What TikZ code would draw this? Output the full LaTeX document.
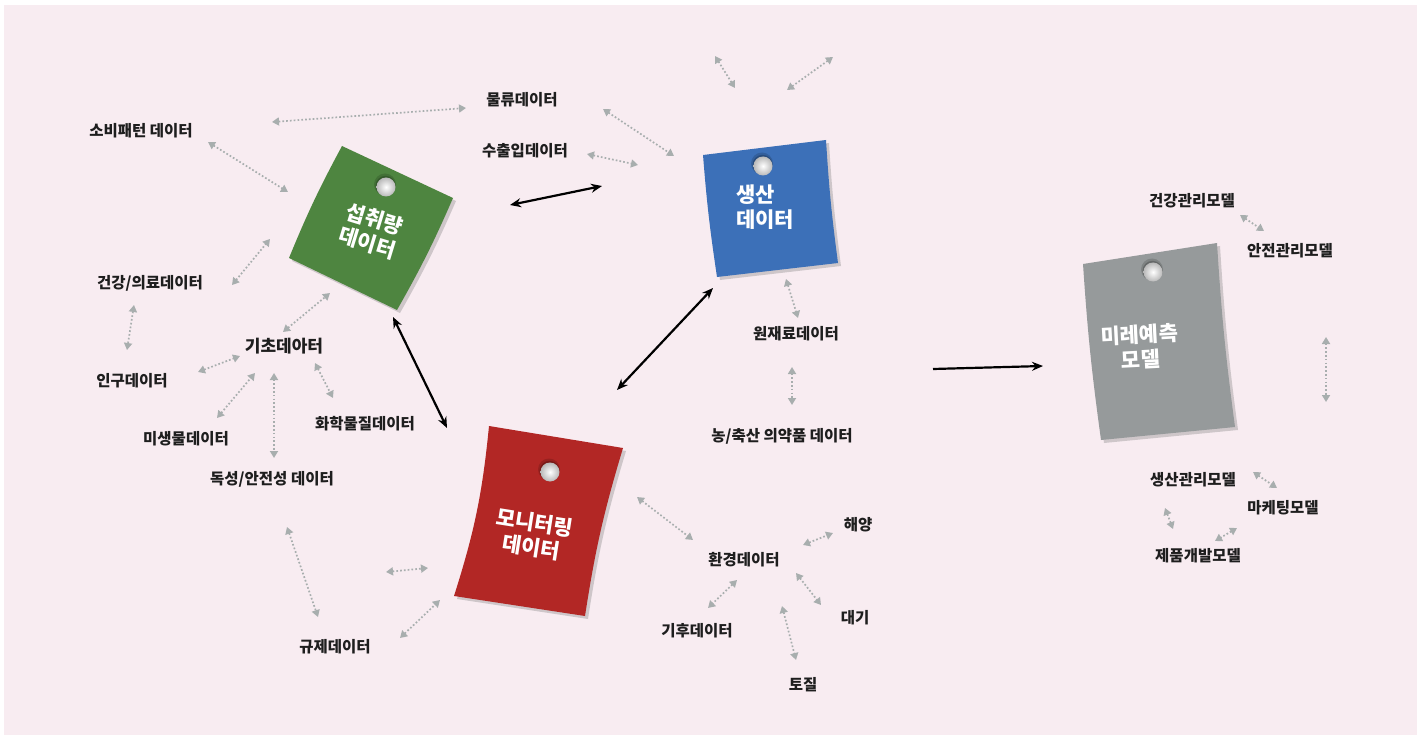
\documentclass[tikz,border=0pt]{standalone}
\usepackage{fontspec}
\newfontfamily\kr{Noto Sans CJK KR}
\usetikzlibrary{arrows.meta,shadows,calc}
\definecolor{bgpink}{HTML}{F8ECF1}
\definecolor{txtc}{HTML}{1E1E1E}
\definecolor{arrgray}{HTML}{A8AEAE}
\definecolor{notegreen}{HTML}{4E8540}
\definecolor{noteblue}{HTML}{3C70B8}
\definecolor{notegray}{HTML}{969A9B}
\definecolor{notered}{HTML}{B22725}
\newcommand\darr[3]{\coordinate (#1a) at (#2); \coordinate (#1b) at (#3); \draw[dotarr] (#1a) -- (#1b);}
\newcommand\pinat[1]{\fill[black,opacity=.15] ($(#1)+(-1,2.5)$) circle (11); \fill[black,opacity=.2] ($(#1)+(-0.5,1.2)$) circle (10); \shade[inner color=white, outer color=gray!55] (#1) circle (9.5);}
\begin{document}
\begin{tikzpicture}[x=1pt,y=1pt,
  lbl/.style={font=\kr\bfseries\fontsize{15.5}{18}\selectfont, text=txtc, inner sep=0},
  notetxt/.style={font=\kr\bfseries\fontsize{21}{25}\selectfont, text=white, align=center, inner sep=0},
  dotarr/.style={draw=arrgray, line width=1.7pt, dash pattern=on 1.7pt off 2.1pt, {Triangle[length=7pt,width=8pt]}-{Triangle[length=7pt,width=8pt]}},
  bigarr/.style={line width=2.2pt, {Stealth[length=11pt,width=9pt]}-{Stealth[length=11pt,width=9pt]}},
  notesh/.style={drop shadow={opacity=0.35, shadow xshift=3pt, shadow yshift=-3pt}}
]
\useasboundingbox (0,0) rectangle (1426,-735);
\fill[white] (0,0) rectangle (1426,-735);
\fill[bgpink] (4,-5) rectangle (1417,-735);

% notes
\fill[notegreen,notesh] (342,-146) -- (453,-198) to[bend left=3] (397,-310) -- (289,-258) to[bend left=3] cycle;
\fill[noteblue,notesh] (703,-155) -- (826,-140) to[bend right=2] (838,-263) -- (717,-277) to[bend left=2] cycle;
\fill[notegray,notesh] (1083,-264) -- (1217,-243) to[bend right=2] (1235,-427) -- (1101,-440) to[bend left=2] cycle;
\fill[notered,notesh] (489,-426) -- (623,-448) to[bend right=4] (585,-616) -- (454,-596) to[bend right=6] cycle;

\coordinate (pg) at (386,-187); \pinat{pg}
\coordinate (pb) at (763,-166); \pinat{pb}
\coordinate (pgr) at (1153,-272); \pinat{pgr}
\coordinate (pr) at (550,-472); \pinat{pr}

\node[notetxt, rotate=-17] (green) at (371,-231) {섭취량\\데이터};
\node[notetxt, align=left, anchor=west] (blue) at (736,-207) {생산\\데이터};
\node[notetxt, rotate=3] (gray) at (1140,-347) {미레예측\\모델};
\node[notetxt, rotate=-9] (red) at (533,-535) {모니터링\\데이터};

% labels
\node[lbl] (l1) at (522,-100) {물류데이터};
\node[lbl] (l2) at (141,-131) {소비패턴 데이터};
\node[lbl] (l3) at (525,-151) {수출입데이터};
\node[lbl] (l4) at (150,-283) {건강/의료데이터};
\node[lbl, font=\kr\bfseries\fontsize{17}{19}\selectfont] (l5) at (284,-346) {기초데아터};
\node[lbl] (l6) at (132,-381) {인구데이터};
\node[lbl] (l7) at (365,-424) {화학물질데이터};
\node[lbl] (l8) at (186,-439) {미생물데이터};
\node[lbl] (l9) at (272,-479) {독성/안전성 데이터};
\node[lbl] (l10) at (335,-647) {규제데이터};
\node[lbl] (l11) at (796,-334) {원재료데이터};
\node[lbl] (l12) at (782,-436) {농/축산 의약품 데이터};
\node[lbl] (l13) at (744,-560) {환경데이터};
\node[lbl] (l14) at (858,-525) {해양};
\node[lbl] (l15) at (855,-618) {대기};
\node[lbl] (l16) at (697,-631) {기후데이터};
\node[lbl] (l17) at (803,-685) {토질};
\node[lbl] (l18) at (1192,-201) {건강관리모델};
\node[lbl] (l19) at (1290,-251) {안전관리모델};
\node[lbl] (l20) at (1193,-480) {생산관리모델};
\node[lbl] (l21) at (1283,-508) {마케팅모델};
\node[lbl] (l22) at (1198,-556) {제품개발모델};

% dotted connectors
\darr{d1}{272,-122}{466,-108}
\darr{d2}{603,-109}{674,-156}
\darr{d3}{587,-154}{638,-165}
\darr{d4}{715,-56}{735,-88}
\darr{d5}{833,-57}{787,-90}
\darr{d6}{208,-142}{288,-192}
\darr{d7}{232,-285}{270,-239}
\darr{d8}{134,-305}{127,-350}
\darr{d9}{283,-332}{330,-293}
\darr{d10}{198,-372}{240,-356}
\darr{d11}{217,-418}{255,-373}
\darr{d12}{274,-373}{274,-458}
\darr{d13}{315,-363}{333,-398}
\darr{d14}{287,-527}{318,-617}
\darr{d15}{386,-572}{428,-568}
\darr{d16}{400,-638}{440,-600}
\darr{d17}{637,-497}{693,-540}
\darr{d18}{803,-545}{833,-533}
\darr{d19}{737,-580}{708,-608}
\darr{d20}{796,-573}{821,-605}
\darr{d21}{782,-606}{796,-660}
\darr{d22}{786,-279}{798,-318}
\darr{d23}{792,-367}{792,-405}
\darr{d24}{1240,-215}{1264,-231}
\darr{d25}{1326,-337}{1326,-402}
\darr{d26}{1253,-472}{1277,-488}
\darr{d27}{1165,-508}{1173,-529}
\darr{d28}{1237,-528}{1215,-541}

% black connectors
\coordinate (b1a) at (510,-205); \coordinate (b1b) at (602,-186);
\coordinate (b2a) at (393,-317); \coordinate (b2b) at (447,-428);
\coordinate (b3a) at (617,-390); \coordinate (b3b) at (713,-288);
\coordinate (b4a) at (933,-369); \coordinate (b4b) at (1043,-366);
\draw[bigarr] (b1a) -- (b1b);
\draw[bigarr] (b2a) -- (b2b);
\draw[bigarr] (b3a) -- (b3b);
\draw[line width=2.2pt, -{Stealth[length=11pt,width=9pt]}] (b4a) -- (b4b);
\end{tikzpicture}
\end{document}
